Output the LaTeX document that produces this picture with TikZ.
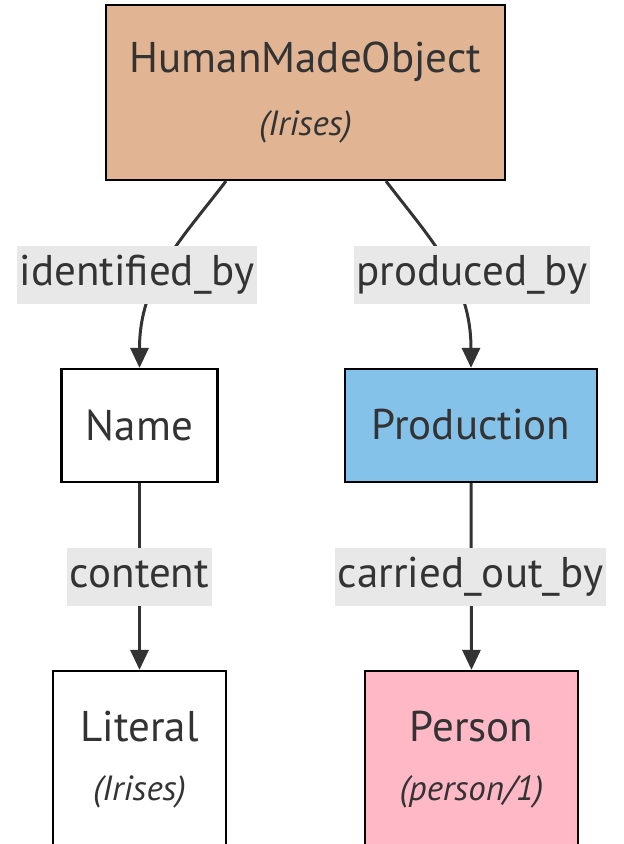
\documentclass[tikz,border=0pt]{standalone}
\usepackage{fontspec}
\setmainfont{PT Sans}
\usetikzlibrary{arrows.meta}
\definecolor{ink}{HTML}{333333}
\definecolor{objfill}{HTML}{E1B594}
\definecolor{prodfill}{HTML}{85C2EA}
\definecolor{persfill}{HTML}{FFB8C6}
\definecolor{labelbg}{HTML}{E8E8E8}
\tikzset{
  box/.style={draw=black, line width=2.2pt, inner sep=0pt},
  title/.style={text=ink, font=\fontsize{43}{50}\selectfont, inner sep=0pt},
  subtitle/.style={text=ink, font=\fontsize{35}{40}\selectfont\itshape, inner sep=0pt},
  rel/.style={fill=labelbg, text=ink, font=\fontsize{43}{50}\selectfont,
    inner xsep=3pt, minimum height=58pt, text height=30pt, text depth=10pt},
  link/.style={draw=ink, line width=3pt, -{Triangle[width=18pt,length=20pt]}},
}
\begin{document}
\begin{tikzpicture}[x=1pt,y=-1pt]
  \useasboundingbox (0,0) rectangle (624,844);
  \clip (0,0) rectangle (624,844);

  % class boxes
  \node[box, fill=objfill, minimum width=399pt, minimum height=175pt] (hmo) at (305.5,92.5) {};
  \node[box, fill=white, minimum width=156pt, minimum height=113pt] (name) at (139.5,425.5) {};
  \node[box, fill=prodfill, minimum width=252pt, minimum height=113pt] (prod) at (471,425.5) {};
  \node[box, fill=white, minimum width=173pt, minimum height=177pt] (lit) at (139.5,759.5) {};
  \node[box, fill=persfill, minimum width=213pt, minimum height=177pt] (pers) at (471.5,759.5) {};

  % box texts
  \node[title] (hmo-t) at (305.5,62) {HumanMadeObject};
  \node[subtitle] (hmo-s) at (305.5,127) {(Irises)};
  \node[title] (name-t) at (139.5,425) {Name};
  \node[title] (prod-t) at (471,425) {Production};
  \node[title] (lit-t) at (139.5,727) {Literal};
  \node[subtitle] (lit-s) at (139.5,792) {(Irises)};
  \node[title] (pers-t) at (471.5,727) {Person};
  \node[subtitle] (pers-s) at (471.5,792) {(person/1)};

  % connectors
  \draw[link] ([xshift=-79.5pt]hmo.south) .. controls +(-46,60) and +(0,-87) .. (name.north);
  \draw[link] ([xshift=80.5pt]hmo.south) .. controls +(46,60) and +(0,-87) .. (prod.north);
  \draw[link] (name.south) -- (lit.north);
  \draw[link] (prod.south) -- (pers.north);

  % connector labels
  \node[rel] (l-id) at (137,275) {identified\_by};
  \node[rel] (l-prod) at (472,275) {produced\_by};
  \node[rel] (l-cont) at (139.5,577) {content};
  \node[rel] (l-carr) at (470.5,577) {carried\_out\_by};
\end{tikzpicture}
\end{document}
